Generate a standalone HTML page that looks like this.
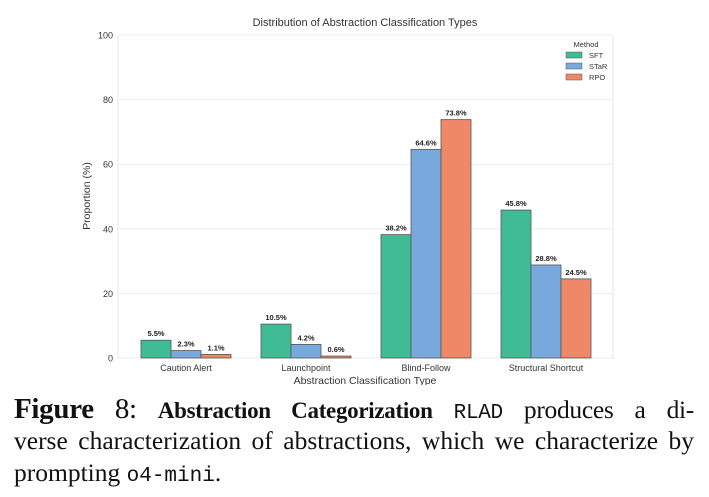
<!DOCTYPE html>
<html><head><meta charset="utf-8"><style>
body{margin:0;width:709px;height:497px;background:#fff;overflow:hidden;font-family:"Liberation Sans",sans-serif}
#cap{position:absolute;left:14px;top:393px;width:680px;font-family:"Liberation Serif",serif;font-size:25.5px;line-height:32px;color:#111}
#cap .ln{white-space:nowrap;text-align:justify;text-align-last:justify;height:32px}
#cap .last{text-align:left;text-align-last:left}
#cap b{font-weight:bold;font-size:23px}
#cap .mono{font-family:"Liberation Mono",monospace;font-size:21px}
</style></head><body>
<svg id="chart" width="709" height="385" style="position:absolute;left:0;top:0" font-family="Liberation Sans, sans-serif"></svg>
<div id="cap">
<div class="ln" style="letter-spacing:-0.3px"><span style="font-size:29px;font-weight:bold">Figure</span> <span style="font-size:29px">8:</span> <b>Abstraction Categorization</b> <span class="mono">RLAD</span> produces a di-</div>
<div class="ln">verse characterization of abstractions, which we characterize by</div>
<div class="ln last">prompting <span class="mono">o4-mini</span>.</div>
</div>
<script>
const categories=["Caution Alert","Launchpoint","Blind-Follow","Structural Shortcut"];
const seriesNames=["SFT","STaR","RPO"];
const sft=[5.5,10.5,38.2,45.8];
const star=[2.3,4.2,64.6,28.8];
const rpo=[1.1,0.6,73.8,24.5];
const yTicks=[0,20,40,60,80,100];
const colors=["#3fbc94","#78a9dc","#ee8866"];
const ns="http://www.w3.org/2000/svg";
const svg=document.getElementById("chart");
const X0=118,X1=613,Y0=358,Y1=35;
const y=v=>Y0-(v/100)*(Y0-Y1);
const xc=i=>186+i*120;
function el(t,a,txt){const e=document.createElementNS(ns,t);for(const k in a)e.setAttribute(k,a[k]);if(txt!=null)e.textContent=txt;svg.appendChild(e);return e;}
let e=el("rect",{x:X0,y:Y1,width:X1-X0,height:Y0-Y1,fill:"none",stroke:"#e4e4e4"});


yTicks.forEach(t=>{
 const g=el("line",{x1:X0,x2:X1,y1:y(t),y2:y(t),stroke:"#ececec"});
 
 
 const l=el("text",{x:X0-5,y:y(t)+3.5,"text-anchor":"end","font-size":9,fill:"#333"},t);
 
 
});
const all=[sft,star,rpo];
categories.forEach((c,i)=>{
 all.forEach((s,j)=>{
  const bx=xc(i)-45+j*30;
  const r=el("rect",{x:bx,y:y(s[i]),width:30,height:Y0-y(s[i]),fill:colors[j],stroke:"#555","stroke-width":0.8});
  
  
  const t=el("text",{x:bx+15,y:y(s[i])-4,"text-anchor":"middle","font-size":7.5,"font-weight":"bold",fill:"#222"},s[i].toFixed(1)+"%");
  
  
 });
 const l=el("text",{x:xc(i),y:371,"text-anchor":"middle","font-size":9,fill:"#333"},c);
 
 
});
e=el("text",{x:365,y:384,"text-anchor":"middle","font-size":10.5,fill:"#333"},"Abstraction Classification Type");


e=el("text",{x:90,y:196,"text-anchor":"middle","font-size":10.5,fill:"#333",transform:"rotate(-90 90 196)"},"Proportion (%)");


e=el("text",{x:365,y:26,"text-anchor":"middle","font-size":11,fill:"#333"},"Distribution of Abstraction Classification Types");


e=el("text",{x:586,y:47,"text-anchor":"middle","font-size":7.5,fill:"#333"},"Method");


seriesNames.forEach((n,j)=>{
 const r=el("rect",{x:566,y:52+j*11,width:16,height:6,fill:colors[j],stroke:"#555","stroke-width":0.5});
 
 
 const t=el("text",{x:589,y:58+j*11,"font-size":7.5,fill:"#333"},n);
 
 
});
</script>
</body></html>
